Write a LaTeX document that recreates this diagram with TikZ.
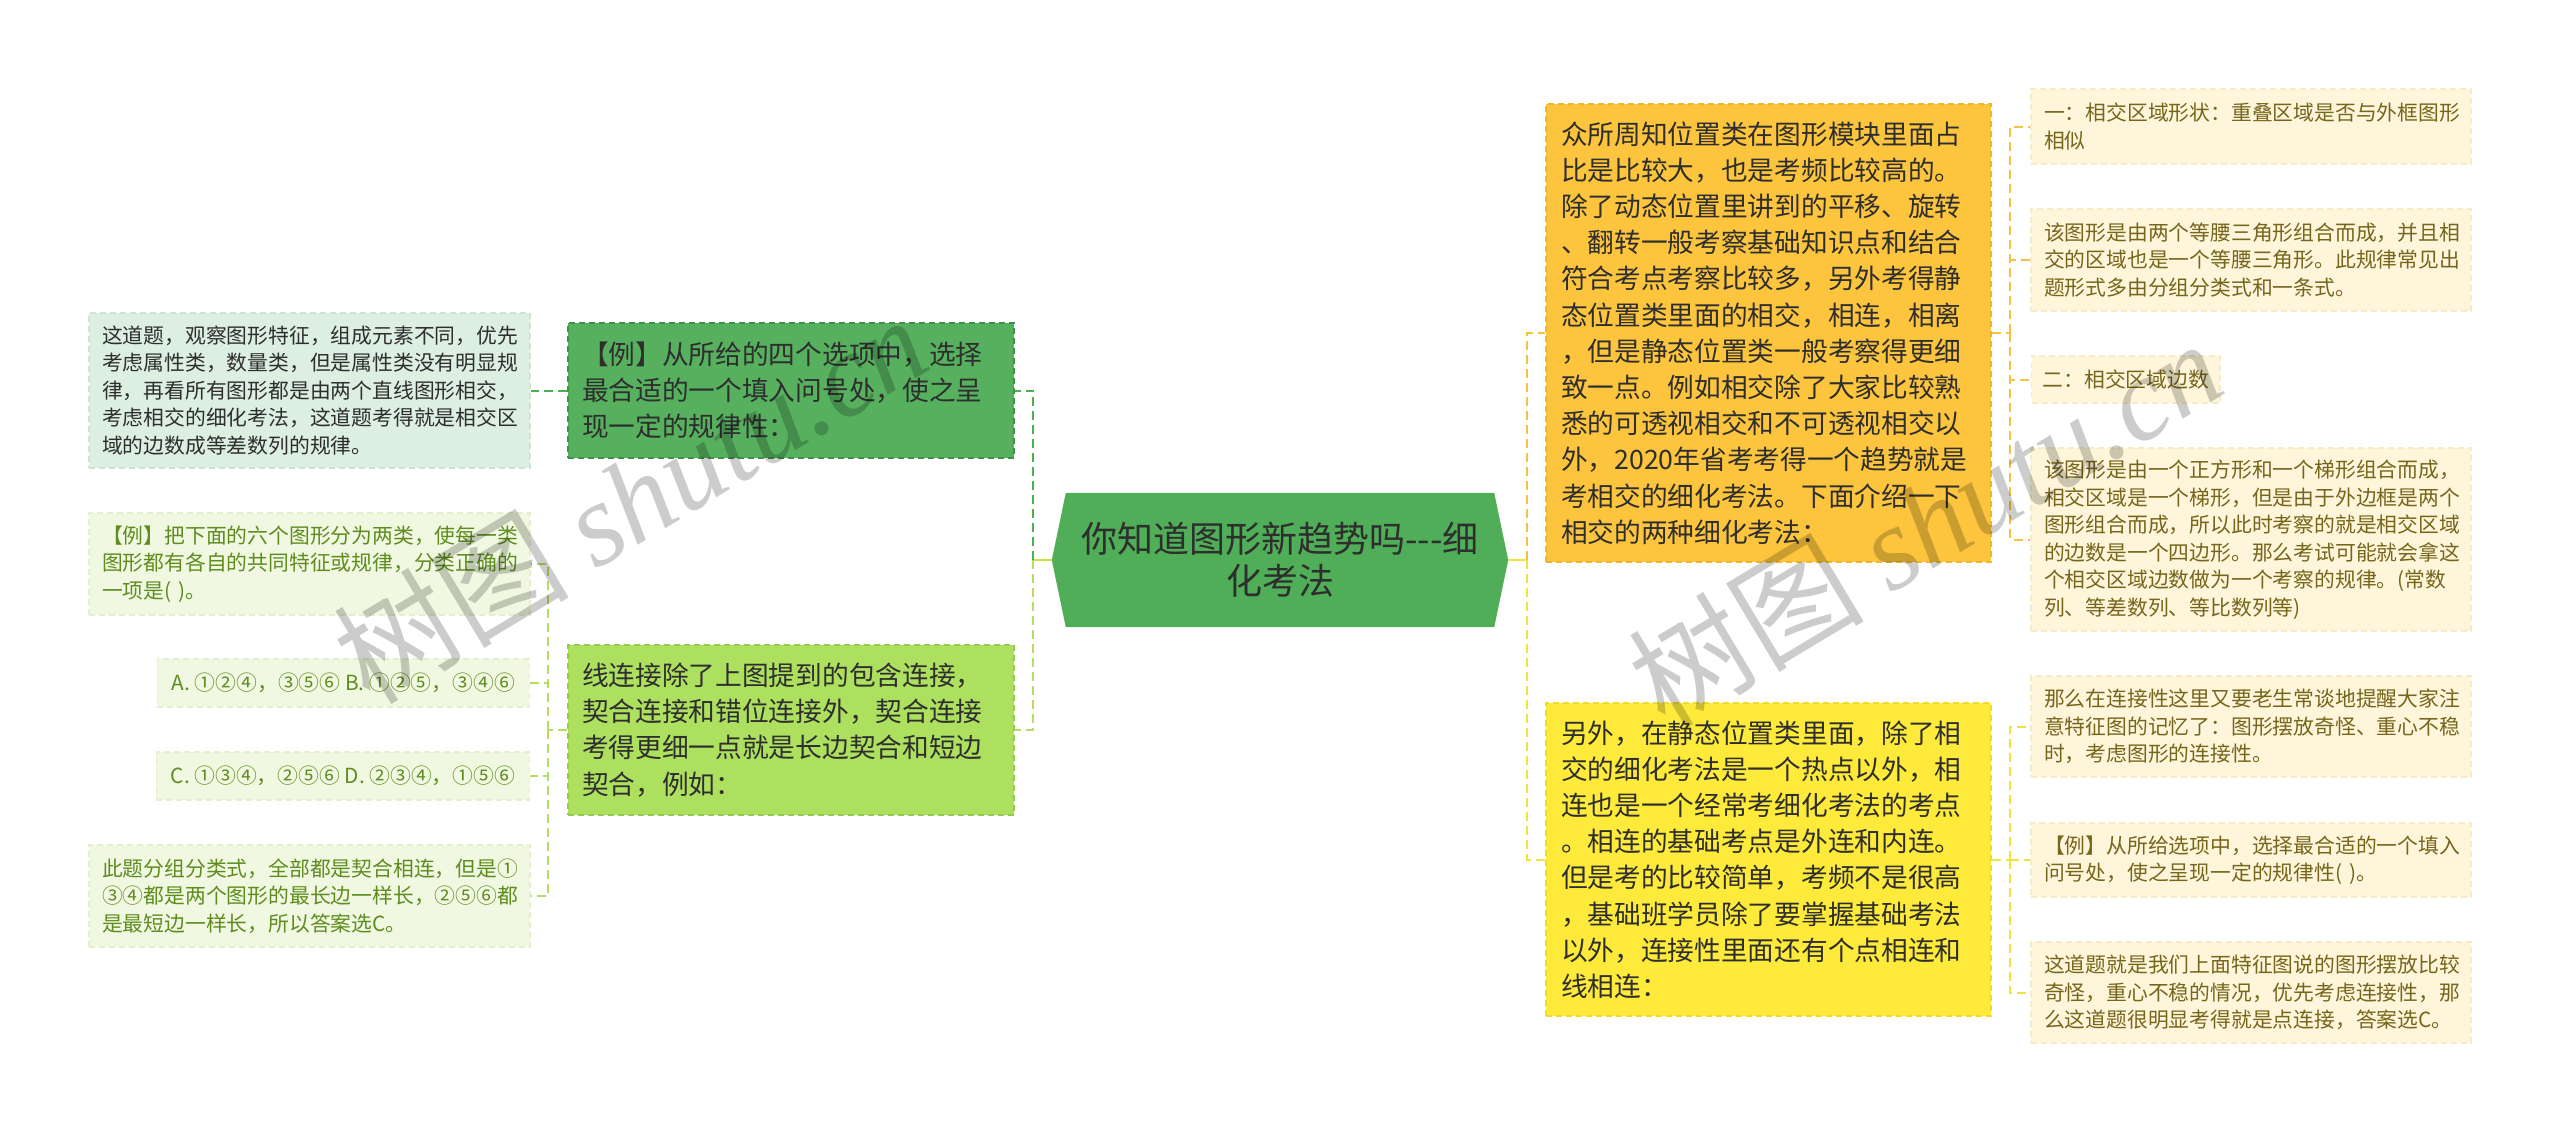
\documentclass[tikz,border=0pt]{standalone}
\usepackage{fontspec}
\setmainfont{Noto Sans CJK SC}
\newfontfamily\wmlatin{Liberation Serif}
\usetikzlibrary{backgrounds}
\definecolor{hexfill}{HTML}{4FAE57}
\definecolor{dkfill}{HTML}{56B05E}
\definecolor{dkdraw}{HTML}{3E9446}
\definecolor{lgfill}{HTML}{AEE05F}
\definecolor{lgdraw}{HTML}{95CB4B}
\definecolor{mintfill}{HTML}{DCEFE1}
\definecolor{mintdraw}{HTML}{CBE5D2}
\definecolor{palefill}{HTML}{F1F8E2}
\definecolor{paledraw}{HTML}{E3F0CB}
\definecolor{paletext}{HTML}{5E8C1E}
\definecolor{orfill}{HTML}{FDC53E}
\definecolor{ordraw}{HTML}{F0B52E}
\definecolor{yefill}{HTML}{FEEA3A}
\definecolor{yedraw}{HTML}{F0DA2A}
\definecolor{crfill}{HTML}{FEF5DA}
\definecolor{crdraw}{HTML}{F7EBC5}
\definecolor{crtext}{HTML}{76661C}
\definecolor{maintext}{HTML}{2E2E2E}
\definecolor{cdk}{HTML}{4CAF50}
\definecolor{clg}{HTML}{B6DD63}
\definecolor{cctl}{HTML}{C8E14A}
\definecolor{cor}{HTML}{F5C242}
\definecolor{cye}{HTML}{F2E23E}
\tikzset{
  boxbase/.style={rectangle, inner xsep=13pt, inner ysep=0pt, align=left,
    line width=1.2pt, dash pattern=on 6pt off 4pt},
  smallfont/.style={font=\fontsize{20.8}{27.5}\selectfont},
  midfont/.style={font=\fontsize{26.7}{36.2}\selectfont},
  crbox/.style={boxbase, smallfont, fill=crfill, draw=crdraw, text=crtext,
    minimum width=440pt, text width=414pt, inner xsep=13pt},
  palebox/.style={boxbase, smallfont, fill=palefill, draw=paledraw, text=paletext,
    minimum width=441pt, text width=415pt},
  mintbox/.style={boxbase, smallfont, fill=mintfill, draw=mintdraw, text=maintext,
    minimum width=441pt, text width=415pt},
  bigbox/.style={boxbase, midfont, text=maintext, minimum width=445pt,
    text width=415pt, inner xsep=15pt},
  leftbig/.style={boxbase, midfont, text=maintext, minimum width=446pt,
    text width=418pt, inner xsep=14pt},
  conn/.style={line width=2pt, dash pattern=on 9pt off 5pt},
  wm/.style={text=black, opacity=0.2, font=\fontsize{118}{120}\selectfont, inner sep=0pt}
}
\begin{document}
\begin{tikzpicture}[x=1pt, y=-1pt]
\begin{pgfonlayer}{background}
\fill[white] (0,0) rectangle (2560,1133);
\end{pgfonlayer}
\useasboundingbox (0,0) rectangle (2560,1133);

% central node
\node[align=center, text width=440pt, minimum width=456pt, minimum height=134pt,
  inner sep=0pt, text=maintext, font=\fontsize{36}{42}\selectfont] (c) at (1280,560)
  {你知道图形新趋势吗-{}-{}-细\\化考法};
\begin{pgfonlayer}{background}
\fill[hexfill] (c.west) -- ([xshift=14pt]c.north west) -- ([xshift=-14pt]c.north east)
  -- (c.east) -- ([xshift=-14pt]c.south east) -- ([xshift=14pt]c.south west) -- cycle;
\end{pgfonlayer}

% left main nodes
\node[leftbig, fill=dkfill, draw=dkdraw, minimum height=135pt] (d1) at (791,390.5)
  {【例】从所给的四个选项中，选择\\最合适的一个填入问号处，使之呈\\现一定的规律性：};
\node[leftbig, fill=lgfill, draw=lgdraw, minimum height=170pt] (d2) at (791,730)
  {线连接除了上图提到的包含连接，\\契合连接和错位连接外，契合连接\\考得更细一点就是长边契合和短边\\契合，例如：};

% left leaves
\node[mintbox, minimum height=155pt] (l1) at (309.5,390.5)
  {这道题，观察图形特征，组成元素不同，优先\\考虑属性类，数量类，但是属性类没有明显规\\律，再看所有图形都是由两个直线图形相交，\\考虑相交的细化考法，这道题考得就是相交区\\域的边数成等差数列的规律。};
\node[palebox, minimum height=102pt] (l2) at (309.5,564)
  {【例】把下面的六个图形分为两类，使每一类\\图形都有各自的共同特征或规律，分类正确的\\一项是( )。};
\node[boxbase, smallfont, fill=palefill, draw=paledraw, text=paletext,
  minimum width=372pt, minimum height=48pt, inner xsep=12pt, anchor=east] (l3) at (530,683)
  {A. ①②④，③⑤⑥ B. ①②⑤，③④⑥};
\node[boxbase, smallfont, fill=palefill, draw=paledraw, text=paletext,
  minimum width=373pt, minimum height=48pt, inner xsep=12pt, anchor=east] (l4) at (530,776)
  {C. ①③④，②⑤⑥ D. ②③④，①⑤⑥};
\node[palebox, minimum height=102pt] (l5) at (309.5,896)
  {此题分组分类式，全部都是契合相连，但是①\\③④都是两个图形的最长边一样长，②⑤⑥都\\是最短边一样长，所以答案选C。};

% right main nodes
\node[bigbox, fill=orfill, draw=ordraw, minimum height=458pt] (o) at (1768.5,333)
  {众所周知位置类在图形模块里面占\\比是比较大，也是考频比较高的。\\除了动态位置里讲到的平移、旋转\\、翻转一般考察基础知识点和结合\\符合考点考察比较多，另外考得静\\态位置类里面的相交，相连，相离\\，但是静态位置类一般考察得更细\\致一点。例如相交除了大家比较熟\\悉的可透视相交和不可透视相交以\\外，2020年省考考得一个趋势就是\\考相交的细化考法。下面介绍一下\\相交的两种细化考法：};
\node[bigbox, fill=yefill, draw=yedraw, minimum height=313pt] (y) at (1768.5,859.5)
  {另外，在静态位置类里面，除了相\\交的细化考法是一个热点以外，相\\连也是一个经常考细化考法的考点\\。相连的基础考点是外连和内连。\\但是考的比较简单，考频不是很高\\，基础班学员除了要掌握基础考法\\以外，连接性里面还有个点相连和\\线相连：};

% right leaves
\node[crbox, minimum height=75pt] (r1) at (2251,126.5)
  {一：相交区域形状：重叠区域是否与外框图形\\相似};
\node[crbox, minimum height=102pt] (r2) at (2251,260)
  {该图形是由两个等腰三角形组合而成，并且相\\交的区域也是一个等腰三角形。此规律常见出\\题形式多由分组分类式和一条式。};
\node[boxbase, smallfont, fill=crfill, draw=crdraw, text=crtext,
  minimum width=188pt, minimum height=47pt, inner xsep=11pt, anchor=west] (r3) at (2031,379.5)
  {二：相交区域边数};
\node[crbox, minimum height=183pt] (r4) at (2251,539.5)
  {该图形是由一个正方形和一个梯形组合而成，\\相交区域是一个梯形，但是由于外边框是两个\\图形组合而成，所以此时考察的就是相交区域\\的边数是一个四边形。那么考试可能就会拿这\\个相交区域边数做为一个考察的规律。(常数\\列、等差数列、等比数列等)};
\node[crbox, minimum height=101pt] (r5) at (2251,726.5)
  {那么在连接性这里又要老生常谈地提醒大家注\\意特征图的记忆了：图形摆放奇怪、重心不稳\\时，考虑图形的连接性。};
\node[crbox, minimum height=74pt] (r6) at (2251,860)
  {【例】从所给选项中，选择最合适的一个填入\\问号处，使之呈现一定的规律性( )。};
\node[crbox, minimum height=101pt] (r7) at (2251,992.5)
  {这道题就是我们上面特征图说的图形摆放比较\\奇怪，重心不稳的情况，优先考虑连接性，那\\么这道题很明显考得就是点连接，答案选C。};

% junction coordinates
\coordinate (jl) at (1033,560);
\coordinate (jl2) at (548,730);
\coordinate (jr) at (1527,560);
\coordinate (jo) at (2010,333);
\coordinate (jy) at (2010,859.5);

% connectors
\begin{pgfonlayer}{background}
\draw[cctl, line width=2pt] (c.west) -- (jl);
\draw[conn, cdk] (jl) |- (d1.east);
\draw[conn, clg] (jl) |- (d2.east);
\draw[conn, cdk] (d1.west) -- (l1.east);
\draw[conn, clg] (d2.west) -- (jl2);
\draw[conn, clg] (jl2) |- (l2.east);
\draw[conn, clg] (jl2) |- (l3.east);
\draw[conn, clg] (jl2) |- (l4.east);
\draw[conn, clg] (jl2) |- (l5.east);
\draw[cye, line width=2pt] (c.east) -- (jr);
\draw[conn, cor] (jr) |- (o.west);
\draw[conn, cye] (jr) |- (y.west);
\draw[conn, cor] (o.east) -- (jo);
\draw[conn, cor] (jo) |- (r1.west);
\draw[conn, cor] (jo) |- (r2.west);
\draw[conn, cor] (jo) |- (r3.west);
\draw[conn, cor] (jo) |- (r4.west);
\draw[conn, cye] (y.east) -- (jy);
\draw[conn, cye] (jy) |- (r5.west);
\draw[conn, cye] (jy) |- (r6.west);
\draw[conn, cye] (jy) |- (r7.west);
\end{pgfonlayer}

% watermarks
\node[wm, rotate=31] (wm1) at (630,498) {树图 {\wmlatin\itshape shutu.cn}};
\node[wm, rotate=31] (wm2) at (1925,522) {树图 {\wmlatin\itshape shutu.cn}};
\end{tikzpicture}
\end{document}
